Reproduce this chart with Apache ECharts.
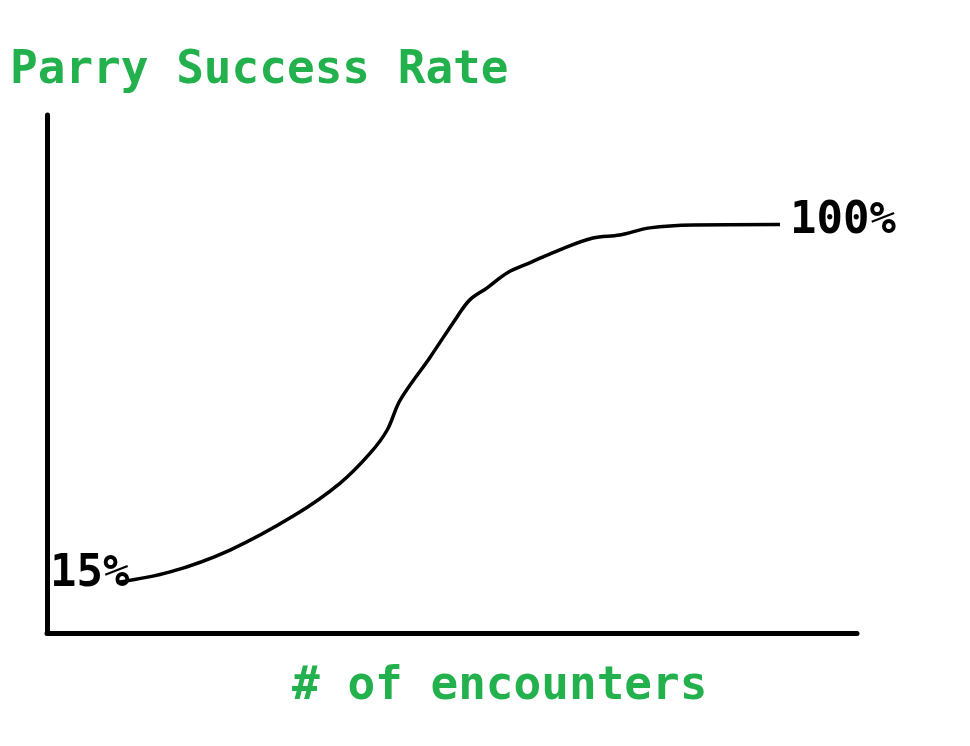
<!DOCTYPE html>
<html>
<head>
<meta charset="utf-8" />
<script src="https://cdn.jsdelivr.net/npm/echarts@6/dist/echarts.min.js"></script>
<style>
  html, body { margin: 0; padding: 0; background: #fff; }
  #chart { width: 970px; height: 746px; }
</style>
</head>
<body>
<div id="chart"></div>
<script>
// encounters (x) and success rate in % (y)
const encounters = [8.6, 15.2, 22.6, 30.6, 36.2, 39.9, 42.0, 43.6, 47.3, 50.6, 52.2, 54.3, 56.8, 59.6, 63.3, 67.4, 70.7, 74.4, 79.8, 90.5];
const successRate = [15, 17.5, 22.7, 31.0, 38.6, 45.7, 51.2, 58.3, 68.5, 78.0, 82.1, 84.9, 88.5, 90.9, 94.0, 96.8, 97.5, 99.2, 99.9, 100];
const endLabels = ["15%", "100%"];

const green = "#22b14c";
const mono = "DejaVu Sans Mono";

const chart = echarts.init(document.getElementById("chart"));

const data = encounters.map((x, i) => {
  const item = { value: [x, successRate[i]] };
  if (i === 0) {
    item.label = { show: true, formatter: endLabels[0], offset: [-27, -8] };
  } else if (i === encounters.length - 1) {
    item.label = { show: true, formatter: endLabels[1], offset: [63, -3] };
  }
  return item;
});

chart.setOption({
  animation: false,
  title: [
    {
      text: "Parry Success Rate",
      left: 5,
      top: 43,
      textStyle: { color: green, fontFamily: mono, fontWeight: "bold", fontSize: 46 },
    },
    {
      text: "# of encounters",
      left: 287,
      top: 659,
      textStyle: { color: green, fontFamily: mono, fontWeight: "bold", fontSize: 46 },
    },
  ],
  grid: { left: 47, right: 113, top: 115, bottom: 113 },
  xAxis: {
    type: "value",
    min: 0,
    max: 100,
    axisLine: { show: true, lineStyle: { color: "#000", width: 5 } },
    axisTick: { show: false },
    axisLabel: { show: false },
    splitLine: { show: false },
  },
  yAxis: {
    type: "value",
    min: 3,
    max: 126,
    axisLine: { show: true, lineStyle: { color: "#000", width: 5 } },
    axisTick: { show: false },
    axisLabel: { show: false },
    splitLine: { show: false },
  },
  series: [
    {
      type: "line",
      data: data,
      smooth: 0.35,
      showSymbol: true,
      symbolSize: 0,
      lineStyle: { color: "#000", width: 3.5 },
      label: {
        show: false,
        position: "inside",
        color: "#000",
        fontFamily: mono,
        fontWeight: "bold",
        fontSize: 44,
      },
    },
  ],
});
</script>
</body>
</html>
